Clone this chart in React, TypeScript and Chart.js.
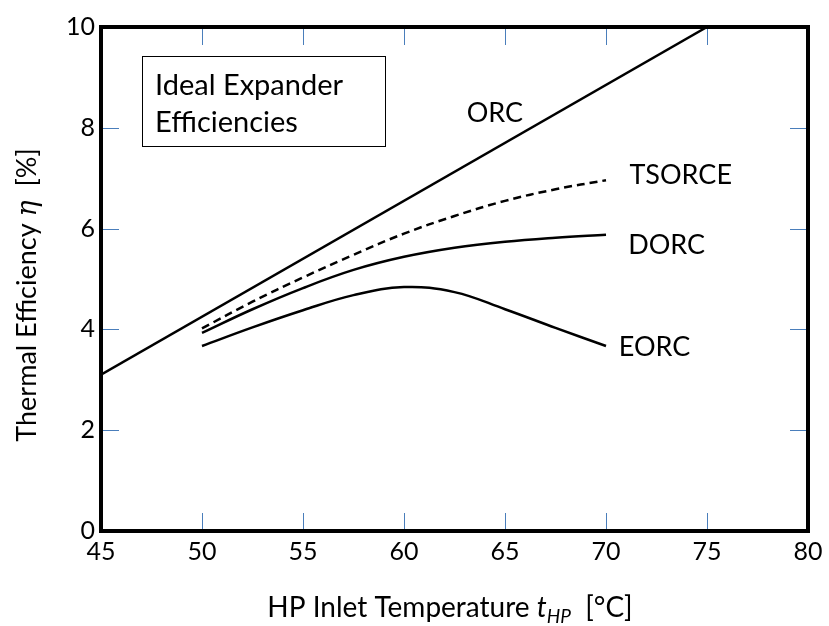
import React, { useEffect, useRef } from "react";
import { Chart, registerables } from "chart.js";

Chart.register(...registerables);

const orcTemps = [45, 75];
const orcValues = [3.1, 10];
const curveTemps = [50, 52.5, 55, 57.5, 60, 62.5, 65, 67.5, 70];
const tsorceValues = [4.02, 4.55, 5.03, 5.48, 5.9, 6.25, 6.55, 6.78, 6.96];
const dorcValues = [3.93, 4.4, 4.82, 5.18, 5.44, 5.62, 5.74, 5.82, 5.88];
const eorcValues = [3.67, 4.04, 4.38, 4.68, 4.84, 4.74, 4.4, 4.03, 3.67];
const xTicks = [45, 50, 55, 60, 65, 70, 75, 80];
const yTicks = [0, 2, 4, 6, 8, 10];
const seriesLabels = ["ORC", "TSORCE", "DORC", "EORC"];
const labelX = [64.5, 73.7, 73.0, 72.4];
const labelY = [8.29, 7.06, 5.67, 3.65];
const boxLines = ["Ideal Expander", "Efficiencies"];

const FONT = "Lato, 'Open Sans', sans-serif";

const toXY = (xs: number[], ys: number[]) => xs.map((x, i) => ({ x, y: ys[i] }));

const decorPlugin = {
  id: "decor",
  afterDraw(chart: any) {
    const { ctx, chartArea: a, scales } = chart;
    const xs = scales.x;
    const ys = scales.y;
    ctx.save();
    // inward ticks
    ctx.strokeStyle = "#4a7ebb";
    ctx.lineWidth = 1;
    const tl = 18;
    xTicks.forEach((t) => {
      if (t === 45 || t === 80) return;
      const px = Math.round(xs.getPixelForValue(t)) + 0.5;
      ctx.beginPath();
      ctx.moveTo(px, a.bottom);
      ctx.lineTo(px, a.bottom - tl);
      ctx.moveTo(px, a.top);
      ctx.lineTo(px, a.top + tl);
      ctx.stroke();
    });
    yTicks.forEach((t) => {
      if (t === 0 || t === 10) return;
      const py = Math.round(ys.getPixelForValue(t)) + 0.5;
      ctx.beginPath();
      ctx.moveTo(a.left, py);
      ctx.lineTo(a.left + tl, py);
      ctx.moveTo(a.right, py);
      ctx.lineTo(a.right - tl, py);
      ctx.stroke();
    });
    // frame
    ctx.strokeStyle = "#000";
    ctx.lineWidth = 4;
    ctx.strokeRect(a.left, a.top, a.right - a.left, a.bottom - a.top);

    // series labels
    ctx.fillStyle = "#000";
    ctx.font = `27px ${FONT}`;
    ctx.textAlign = "center";
    ctx.textBaseline = "middle";
    seriesLabels.forEach((s, i) => {
      ctx.fillText(s, xs.getPixelForValue(labelX[i]), ys.getPixelForValue(labelY[i]));
    });

    // text box
    const bx = 142;
    const by = 56;
    ctx.fillStyle = "#fff";
    ctx.fillRect(bx, by, 243, 90);
    ctx.strokeStyle = "#000";
    ctx.lineWidth = 1;
    ctx.strokeRect(bx + 0.5, by + 0.5, 243, 90);
    ctx.fillStyle = "#000";
    ctx.textAlign = "left";
    ctx.textBaseline = "alphabetic";
    ctx.font = `29px ${FONT}`;
    ctx.fillText(boxLines[0], 155, 95);
    ctx.fillText(boxLines[1], 155, 132);

    // x title
    const parts: [string, string, number][] = [
      ["HP Inlet Temperature ", `28px ${FONT}`, 0],
      ["t", `italic 28px ${FONT}`, 0],
      ["HP", `italic 19px ${FONT}`, 6],
      ["  [°C]", `28px ${FONT}`, 0],
    ];
    let total = 0;
    parts.forEach(([t, f]) => {
      ctx.font = f;
      total += ctx.measureText(t).width;
    });
    let cx = 450 - total / 2;
    const baseY = 617;
    parts.forEach(([t, f, dy]) => {
      ctx.font = f;
      ctx.fillText(t, cx, baseY + dy);
      cx += ctx.measureText(t).width;
    });

    // y title
    ctx.translate(36, 295);
    ctx.rotate(-Math.PI / 2);
    const yparts: [string, string][] = [
      ["Thermal Efficiency ", `27px ${FONT}`],
      ["η", `italic 27px 'DejaVu Serif', serif`],
      ["  [%]", `27px ${FONT}`],
    ];
    let ytotal = 0;
    yparts.forEach(([t, f]) => {
      ctx.font = f;
      ytotal += ctx.measureText(t).width;
    });
    let yx = -ytotal / 2;
    yparts.forEach(([t, f]) => {
      ctx.font = f;
      ctx.fillText(t, yx, 0);
      yx += ctx.measureText(t).width;
    });
    ctx.restore();
  },
};

export default function App() {
  const ref = useRef<HTMLCanvasElement>(null);
  useEffect(() => {
    if (!ref.current) return;
    const line = { borderColor: "#000", borderWidth: 2.5, pointRadius: 0, fill: false };
    const chart = new Chart(ref.current, {
      type: "line",
      data: {
        datasets: [
          { label: "ORC", data: toXY(orcTemps, orcValues), ...line },
          { label: "TSORCE", data: toXY(curveTemps, tsorceValues), ...line, borderDash: [8, 5], tension: 0.4 },
          { label: "DORC", data: toXY(curveTemps, dorcValues), ...line, tension: 0.4 },
          { label: "EORC", data: toXY(curveTemps, eorcValues), ...line, tension: 0.4 },
        ] as any,
      },
      options: {
        responsive: false,
        animation: false,
        layout: { padding: { top: 27, right: 21, left: 0, bottom: 0 } },
        plugins: { legend: { display: false }, tooltip: { enabled: false } },
        scales: {
          x: {
            type: "linear",
            min: 45,
            max: 80,
            afterBuildTicks: (s: any) => { s.ticks = xTicks.map((v) => ({ value: v })); },
            afterFit: (s: any) => { s.height = 95; },
            grid: { display: false, drawTicks: false },
            border: { display: false },
            ticks: { color: "#000", font: { family: FONT, size: 25 }, padding: 6 },
          },
          y: {
            type: "linear",
            min: 0,
            max: 10,
            afterBuildTicks: (s: any) => { s.ticks = yTicks.map((v) => ({ value: v })); },
            afterFit: (s: any) => { s.width = 101; },
            grid: { display: false, drawTicks: false },
            border: { display: false },
            ticks: { color: "#000", font: { family: FONT, size: 25 }, padding: 6 },
          },
        },
      },
      plugins: [decorPlugin],
    });
    return () => chart.destroy();
  }, []);
  return (
    <div style={{ position: "fixed", left: 0, top: 0, width: 829, height: 626, background: "#fff" }}>
      <canvas ref={ref} width={829} height={626} />
    </div>
  );
}
